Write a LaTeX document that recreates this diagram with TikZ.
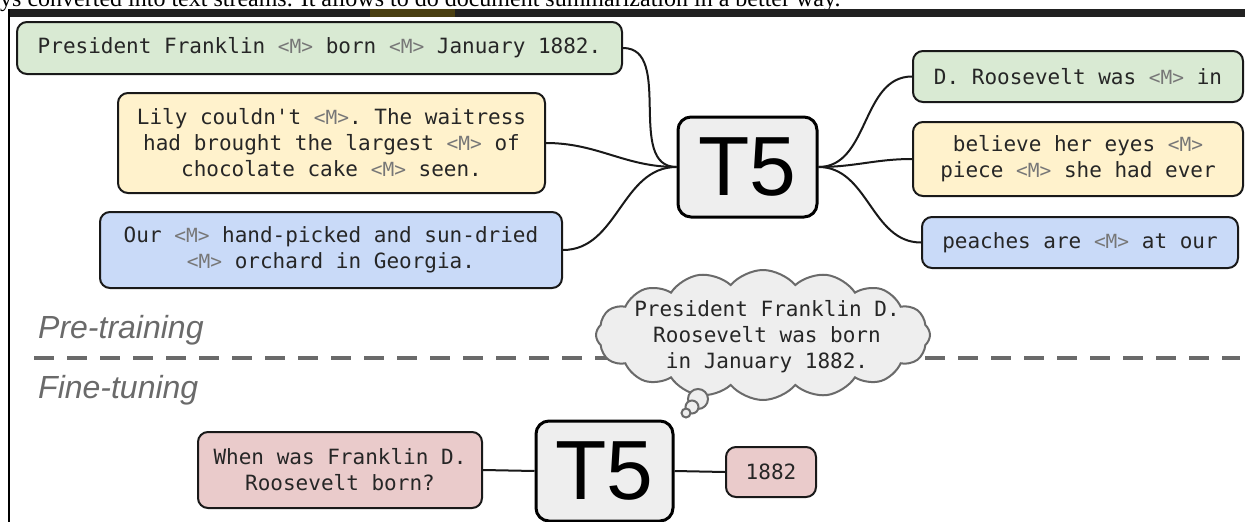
\documentclass[tikz,border=0pt]{standalone}
\usepackage{fontspec}
\setmainfont{Liberation Serif}
\setsansfont{Liberation Sans}
\setmonofont{DejaVu Sans Mono}
\usepackage{tikz}
\usetikzlibrary{shapes.symbols}% cloud shape for the thought bubble
\definecolor{boxgreen}{HTML}{D9EAD3}
\definecolor{boxyellow}{HTML}{FFF2CC}
\definecolor{boxblue}{HTML}{C9DAF8}
\definecolor{boxpink}{HTML}{EACBCB}
\definecolor{tfivegray}{HTML}{EEEEEE}
\definecolor{maskgray}{HTML}{777777}
\definecolor{stagegray}{HTML}{6A6A6A}
\definecolor{tabpatch}{HTML}{4A3F12}
\newcommand{\msk}{{\fontsize{19.5}{19.5}\selectfont\color{maskgray}<M>}}
\tikzset{every node/.style={font=\ttfamily\fontsize{21}{26}\selectfont, text=black!85},
  txtbox/.style={draw=black!90, line width=2pt, rounded corners=10pt, align=center, inner sep=0pt},
  tfivebox/.style={draw=black, line width=3pt, rounded corners=13pt, fill=tfivegray, inner sep=0pt,
    minimum width=139pt, minimum height=100pt, font=\sffamily\fontsize{84}{84}\selectfont, text=black},
  link/.style={line width=2pt, black!90},
  stage/.style={font=\sffamily\itshape\fontsize{32}{32}\selectfont, text=stagegray, anchor=west, inner sep=0pt},
  thought/.style={draw=stagegray, fill=tfivegray, line width=2pt}}

\begin{document}
\begin{tikzpicture}[x=1pt, y=-1pt]
  \useasboundingbox (0,0) rectangle (1245,522);
  % screenshot remains at the top
  \node[font=\rmfamily\fontsize{24}{24}\selectfont, text=black, anchor=base west, inner sep=0pt] (topline) at (0,6.5)
       {ys converted into text streams. It allows to do document summarization in a better way.};
  \fill[black!87] (8,9) rectangle (1245,16.5);
  \fill[tabpatch] (370,9) rectangle (455,16.5);
  \draw[black, line width=2pt] (9,9) -- (9,522);

  % pre-training
  \node[txtbox, fill=boxgreen, minimum width=605pt, minimum height=52pt] (pre1) at (319.5,48)
       {President Franklin \msk{} born \msk{} January 1882.};
  \node[txtbox, fill=boxyellow, minimum width=427pt, minimum height=100pt] (pre2) at (331.5,143)
       {Lily couldn't \msk. The waitress\\had brought the largest \msk{} of\\chocolate cake \msk{} seen.};
  \node[txtbox, fill=boxblue, minimum width=462pt, minimum height=76pt] (pre3) at (331,250)
       {Our \msk{} hand-picked and sun-dried\\\msk{} orchard in Georgia.};
  \node[tfivebox] (tfive) at (747.5,167) {T5};
  \node[txtbox, fill=boxgreen, minimum width=330pt, minimum height=51pt] (tgt1) at (1078,76.5)
       {D. Roosevelt was \msk{} in};
  \node[txtbox, fill=boxyellow, minimum width=330pt, minimum height=74pt] (tgt2) at (1078,159)
       {believe her eyes \msk\\piece \msk{} she had ever};
  \node[txtbox, fill=boxblue, minimum width=316pt, minimum height=51pt] (tgt3) at (1080,242.5)
       {peaches are \msk{} at our};
  \foreach \src in {pre1,pre2,pre3} \draw[link] (\src.east) to[out=0, in=180] (tfive.west);
  \foreach \dst in {tgt1,tgt2,tgt3} \draw[link] (tfive.east) to[out=0, in=180] (\dst.west);

  % stages
  \node[stage] (pretrain) at (38,330) {Pre-training};
  \node[stage] (finetune) at (38,390) {Fine-tuning};
  \draw[stagegray, line width=4pt, dash pattern=on 20pt off 13pt] (34,358) -- (1240,358);

  \node[thought, cloud, cloud puffs=16, cloud puff arc=100, cloud ignores aspect,
        minimum width=334pt, minimum height=130pt, inner sep=0pt] (thinkcloud) at (763,335) {};
  \node[align=center, inner sep=0pt] (cloudtext) at (767,337)
       {President Franklin D.\\Roosevelt was born\\in January 1882.};
  \foreach \bx/\by/\br in {698/399/10, 692/407/6.5, 686/413/4.5}
    \draw[thought] (\bx,\by) circle[radius=\br pt];

  % fine-tuning
  \node[txtbox, fill=boxpink, minimum width=284pt, minimum height=76pt] (question) at (340,470)
       {When was Franklin D.\\Roosevelt born?};
  \node[tfivebox, minimum width=137pt] (tfiveft) at (604.5,471) {T5};
  \node[txtbox, fill=boxpink, minimum width=90pt, minimum height=50pt] (answer) at (771,472) {1882};
  \draw[link] (question.east) -- (tfiveft.west);
  \draw[link] (tfiveft.east) -- (answer.west);
\end{tikzpicture}
\end{document}
